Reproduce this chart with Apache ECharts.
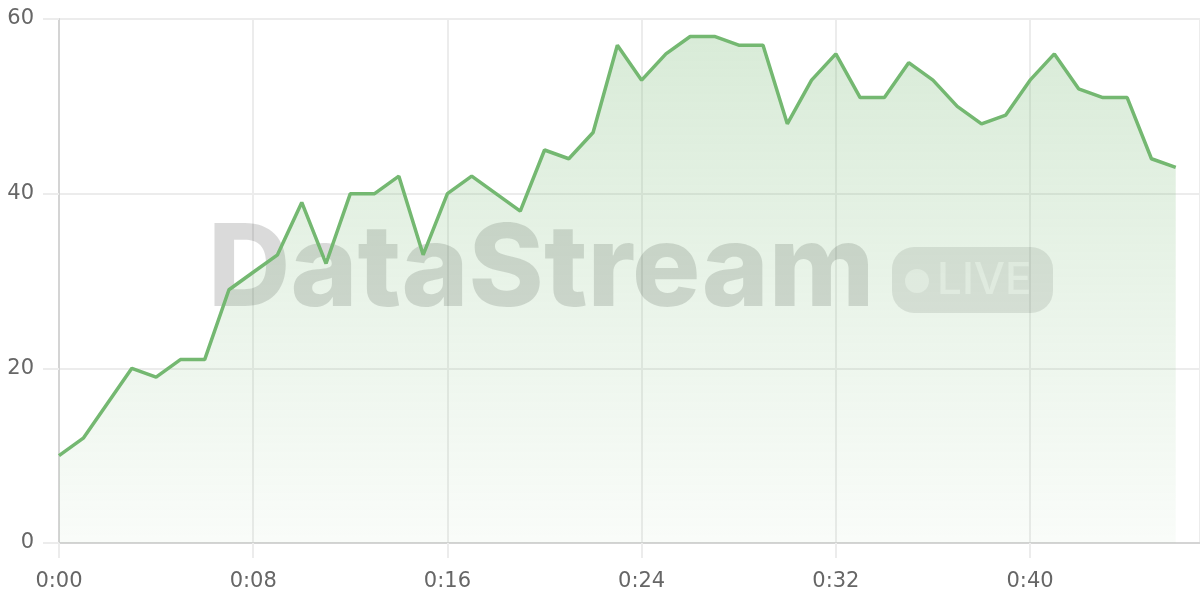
<!DOCTYPE html>
<html>
<head>
<meta charset="utf-8">
<script src="https://cdn.jsdelivr.net/npm/echarts@6/dist/echarts.min.js"></script>
<style>
  html, body { margin: 0; padding: 0; background: #fff; }
  #chart { width: 1200px; height: 600px; }
</style>
</head>
<body>
<div id="chart"></div>
<script>
// elapsed seconds of each sample
var seconds = [0, 1, 2, 3, 4, 5, 6, 7, 8, 9, 10, 11, 12, 13, 14, 15, 16, 17, 18, 19,
  20, 21, 22, 23, 24, 25, 26, 27, 28, 29, 30, 31, 32, 33, 34, 35, 36, 37, 38, 39,
  40, 41, 42, 43, 44, 45, 46];
// value at each sample
var values = [10, 12, 16, 20, 19, 21, 21, 29, 31, 33, 39, 32, 40, 40, 42, 33, 40, 42, 40, 38,
  45, 44, 47, 57, 53, 56, 58, 58, 57, 57, 48, 53, 56, 51, 51, 55, 53, 50, 48, 49,
  53, 56, 52, 51, 51, 44, 43];
var yTicks = [0, 20, 40, 60];

var chart = echarts.init(document.getElementById('chart'));

var points = seconds.map(function (s, i) { return [s, values[i]]; });

function fmtTime(v) {
  var m = Math.floor(v / 60);
  var s = v % 60;
  return m + ':' + (s < 10 ? '0' + s : s);
}

var labelFont = 'DejaVu Sans';
var gridColor = '#ececec';
var axisColor = '#d4d4d4';

var option = {
  animation: false,
  grid: { left: 59, right: 0, top: 19, bottom: 57 },
  xAxis: {
    type: 'value',
    min: 0,
    max: 47,
    interval: 8,
    axisLine: { show: true, lineStyle: { color: axisColor, width: 2 } },
    axisTick: { show: true, length: 15, lineStyle: { color: gridColor, width: 2 } },
    splitLine: { show: true, lineStyle: { color: gridColor, width: 2 } },
    axisLabel: {
      showMaxLabel: false,
      margin: 28,
      color: '#666',
      fontSize: 21,
      fontFamily: labelFont,
      formatter: fmtTime
    }
  },
  yAxis: {
    type: 'value',
    min: yTicks[0],
    max: yTicks[yTicks.length - 1],
    interval: 20,
    axisLine: { show: true, lineStyle: { color: axisColor, width: 2 } },
    axisTick: { show: true, length: 16, lineStyle: { color: gridColor, width: 2 } },
    splitLine: { show: true, lineStyle: { color: gridColor, width: 2 } },
    axisLabel: {
      margin: 25,
      color: '#666',
      fontSize: 21,
      fontFamily: labelFont
    }
  },
  // 水印
  graphic: [
    {
      type: 'text',
      z: 1,
      x: 208,
      y: 272,
      style: {
        text: 'DataStream',
        font: '800 114px Inter',
        fill: 'rgba(0,0,0,0.145)',
        verticalAlign: 'middle'
      }
    },
    {
      type: 'rect',
      z: 1,
      shape: { x: 892, y: 247, width: 161, height: 66, r: 22 },
      style: { fill: 'rgba(0,0,0,0.1)' }
    },
    {
      type: 'circle',
      z: 1,
      shape: { cx: 917, cy: 281, r: 12 },
      style: { fill: 'rgba(255,255,255,0.55)' }
    },
    {
      type: 'text',
      z: 1,
      x: 937,
      y: 281,
      style: {
        text: 'LIVE',
        font: '500 44px Inter',
        fill: 'rgba(255,255,255,0.55)',
        verticalAlign: 'middle'
      }
    }
  ],
  series: [{
    type: 'line',
    z: 2,
    data: points,
    symbol: 'none',
    lineStyle: { color: '#74b871', width: 3.5 },
    areaStyle: {
      color: new echarts.graphic.LinearGradient(0, 0, 0, 1, [
        { offset: 0, color: 'rgba(118,184,115,0.4)' },
        { offset: 1, color: 'rgba(118,184,115,0.06)' }
      ])
    }
  }]
};

chart.setOption(option);
</script>
</body>
</html>
